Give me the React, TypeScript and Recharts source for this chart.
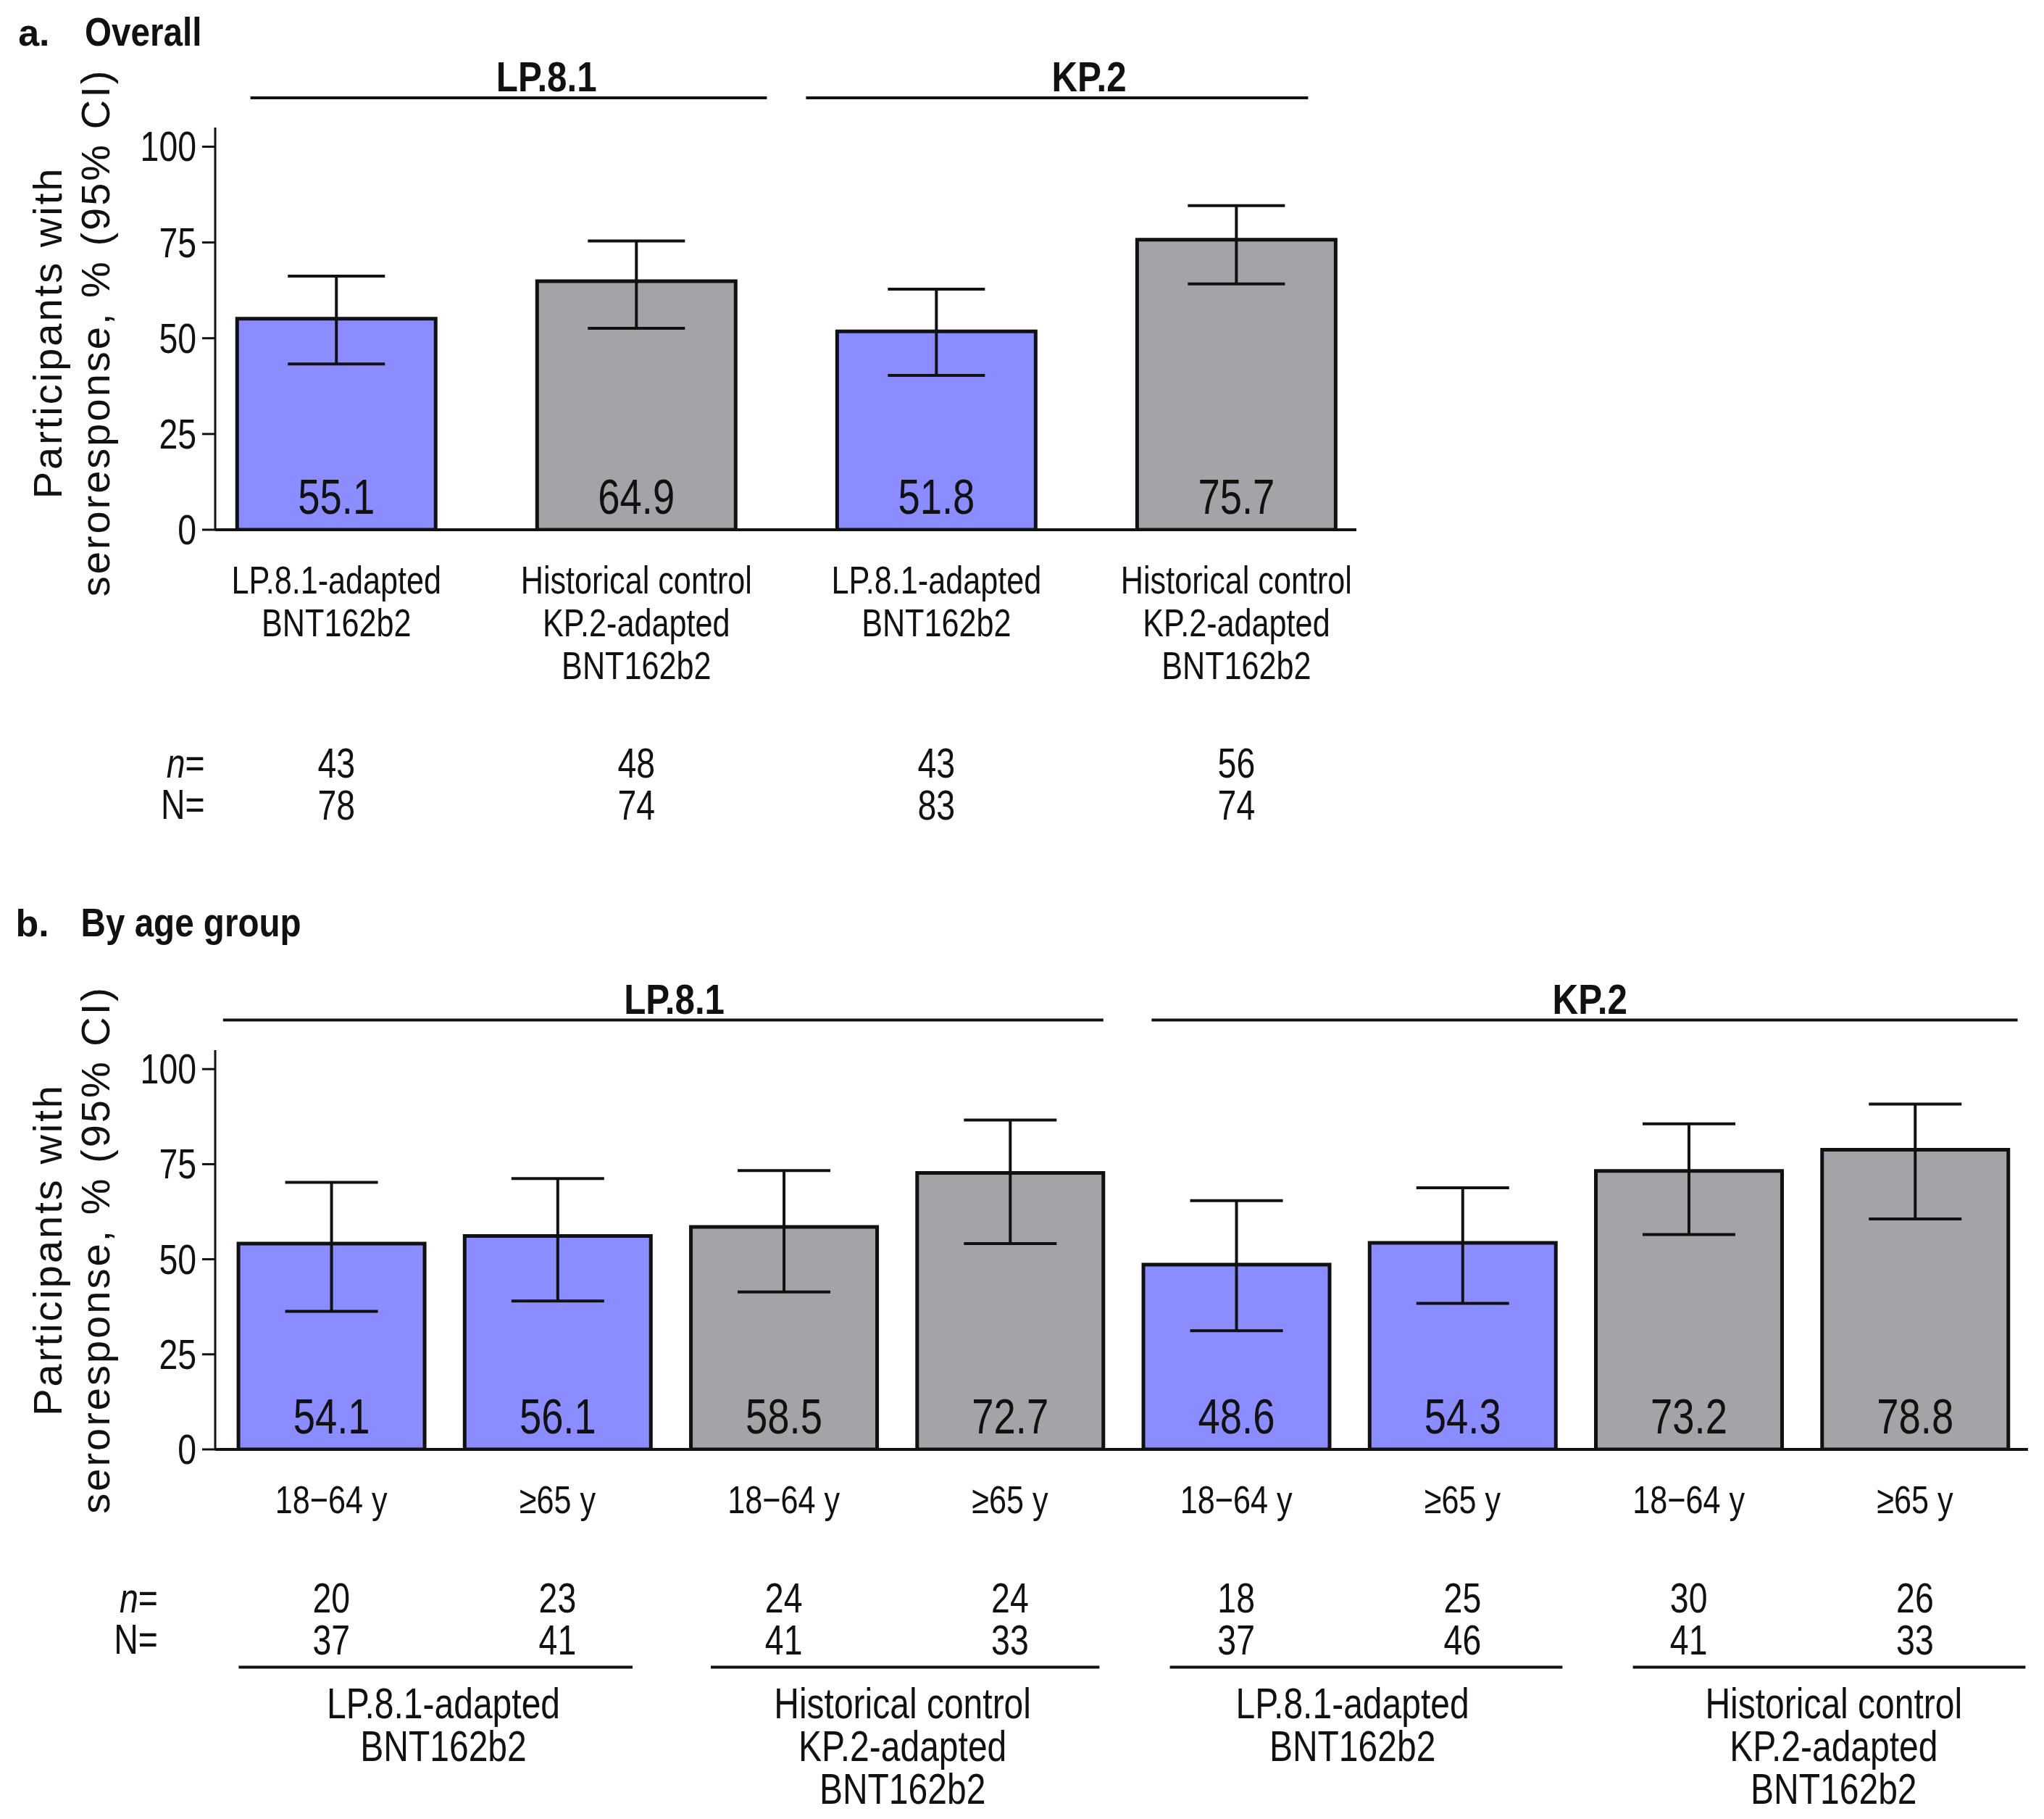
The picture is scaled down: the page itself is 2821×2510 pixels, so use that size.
import React from "react";
import { ComposedChart, Bar, XAxis, YAxis, ErrorBar, Cell, LabelList } from "recharts";

const S = 1.8;
const BLUE = "#8b8cff";
const GRAY = "#a4a3a8";
const NARROW = "'Liberation Sans Narrow', 'Arial Narrow', 'Liberation Sans', sans-serif";
const SANS = "'Liberation Sans', Arial, sans-serif";
const SQ = 0.8;

// Panel a
const aCategories = [
  ["LP.8.1-adapted", "BNT162b2"],
  ["Historical control", "KP.2-adapted", "BNT162b2"],
  ["LP.8.1-adapted", "BNT162b2"],
  ["Historical control", "KP.2-adapted", "BNT162b2"],
];
const aValues = [55.1, 64.9, 51.8, 75.7];
const aLow = [43.3, 52.6, 40.3, 64.2];
const aHigh = [66.2, 75.4, 62.8, 84.6];
const aN_small = [43, 48, 43, 56];
const aN_big = [78, 74, 83, 74];
const aColors = [BLUE, GRAY, BLUE, GRAY];

// Panel b
const bAges = ["18\u221264 y", "\u226565 y", "18\u221264 y", "\u226565 y", "18\u221264 y", "\u226565 y", "18\u221264 y", "\u226565 y"];
const bValues = [54.1, 56.1, 58.5, 72.7, 48.6, 54.3, 73.2, 78.8];
const bLow = [36.3, 39.0, 41.4, 54.1, 31.2, 38.4, 56.5, 60.6];
const bHigh = [70.2, 71.2, 73.3, 86.6, 65.4, 68.8, 85.6, 90.8];
const bN_small = [20, 23, 24, 24, 18, 25, 30, 26];
const bN_big = [37, 41, 41, 33, 37, 46, 41, 33];
const bColors = [BLUE, BLUE, GRAY, GRAY, BLUE, BLUE, GRAY, GRAY];
const bGroups = [
  ["LP.8.1-adapted", "BNT162b2"],
  ["Historical control", "KP.2-adapted", "BNT162b2"],
  ["LP.8.1-adapted", "BNT162b2"],
  ["Historical control", "KP.2-adapted", "BNT162b2"],
];

const yTicks = [0, 25, 50, 75, 100];

const aData = aValues.map((v, i) => ({ i, v, err: [v - aLow[i], aHigh[i] - v] }));
const bData = bValues.map((v, i) => ({ i, v, err: [v - bLow[i], bHigh[i] - v] }));

const NText = ({ x, y, size, anchor = "middle", children, fill = "#111" }: any) => (
  <text transform={`translate(${x},${y}) scale(${SQ},1)`} textAnchor={anchor} fontFamily={NARROW} fontSize={size} fill={fill}>
    {children}
  </text>
);

const ValueLabel = (props: any) => {
  const { x, width, value, y, height } = props;
  return <NText x={x + width / 2} y={y + height - 22} size={68}>{Number(value).toFixed(1)}</NText>;
};

const ATick = (props: any) => {
  const { x, y, payload } = props;
  const i = payload.value;
  const lines = aCategories[i];
  if (!lines) return null;
  return (
    <g>
      {lines.map((l, k) => (
        <NText key={k} x={x} y={y + 88 + k * 59} size={54}>{l}</NText>
      ))}
      <NText x={x} y={y + 342} size={58}>{aN_small[i]}</NText>
      <NText x={x} y={y + 400} size={58}>{aN_big[i]}</NText>
    </g>
  );
};

const BTick = (props: any) => {
  const { x, y, payload } = props;
  const i = payload.value;
  if (bAges[i] === undefined) return null;
  return (
    <g>
      <NText x={x} y={y + 88} size={54}>{bAges[i]}</NText>
      <NText x={x} y={y + 225} size={58}>{bN_small[i]}</NText>
      <NText x={x} y={y + 283} size={58}>{bN_big[i]}</NText>
    </g>
  );
};

const YTick = (props: any) => {
  const { x, y, payload } = props;
  return <NText x={x} y={y + 20} size={58} anchor="end">{payload.value}</NText>;
};

export default function App() {
  return (
    <div style={{ position: "absolute", left: 0, top: 0, width: 2821, height: 2510, background: "#fff" }}>
      <div style={{ position: "absolute", left: 0, top: 0 }}>
        <ComposedChart width={2821} height={1250} data={aData} margin={{ top: 176, bottom: 119, left: 177, right: 949 }}>
          <YAxis type="number" domain={[0, 105]} ticks={yTicks} width={120} tickSize={18} tickMargin={8}
            axisLine={{ stroke: "#111", strokeWidth: 3 }} tickLine={{ stroke: "#111", strokeWidth: 3 }} tick={<YTick />} allowDataOverflow />
          <XAxis type="number" dataKey="i" domain={[-0.404, 3.4]} ticks={[0, 1, 2, 3]} height={400} tickSize={0} tickMargin={0}
            axisLine={{ stroke: "#111", strokeWidth: 4 }} tick={<ATick />} allowDataOverflow interval={0} />
          <Bar dataKey="v" barSize={274} stroke="#111" strokeWidth={5} isAnimationActive={false}>
            {aData.map((d, k) => <Cell key={k} fill={aColors[k]} />)}
            <ErrorBar dataKey="err" width={67} stroke="#111" strokeWidth={4} direction="y" />
            <LabelList dataKey="v" content={<ValueLabel />} />
          </Bar>
        </ComposedChart>
      </div>
      <div style={{ position: "absolute", left: 0, top: 1250 }}>
        <ComposedChart width={2821} height={1260} data={bData} margin={{ top: 199, bottom: 110, left: 177, right: 22 }}>
          <YAxis type="number" domain={[0, 105]} ticks={yTicks} width={120} tickSize={18} tickMargin={8}
            axisLine={{ stroke: "#111", strokeWidth: 3 }} tickLine={{ stroke: "#111", strokeWidth: 3 }} tick={<YTick />} allowDataOverflow />
          <XAxis type="number" dataKey="i" domain={[-0.513, 7.5]} ticks={[0, 1, 2, 3, 4, 5, 6, 7]} height={400} tickSize={0} tickMargin={0}
            axisLine={{ stroke: "#111", strokeWidth: 4 }} tick={<BTick />} allowDataOverflow interval={0} />
          <Bar dataKey="v" barSize={257} stroke="#111" strokeWidth={5} isAnimationActive={false}>
            {bData.map((d, k) => <Cell key={k} fill={bColors[k]} />)}
            <ErrorBar dataKey="err" width={64} stroke="#111" strokeWidth={4} direction="y" />
            <LabelList dataKey="v" content={<ValueLabel />} />
          </Bar>
        </ComposedChart>
      </div>
      <svg width={2821} height={2510} style={{ position: "absolute", left: 0, top: 0, pointerEvents: "none" }}>
        <g fill="#111" fontFamily={SANS} fontWeight="bold">
          <text x={14 * S} y={35 * S} fontSize={52}>a.</text>
          <text transform={`translate(${65 * S},${35 * S}) scale(0.85,1)`} fontSize={56}>Overall</text>
          <text x={12 * S} y={718 * S} fontSize={52}>b.</text>
          <text transform={`translate(${62 * S},${718 * S}) scale(0.85,1)`} fontSize={56}>By age group</text>
          <text transform={`translate(${419 * S},${70 * S}) scale(0.85,1)`} textAnchor="middle" fontSize={58}>LP.8.1</text>
          <text transform={`translate(${835 * S},${70 * S}) scale(0.85,1)`} textAnchor="middle" fontSize={58}>KP.2</text>
          <text transform={`translate(${517 * S},${777 * S}) scale(0.85,1)`} textAnchor="middle" fontSize={58}>LP.8.1</text>
          <text transform={`translate(${1219 * S},${777 * S}) scale(0.85,1)`} textAnchor="middle" fontSize={58}>KP.2</text>
        </g>
        <g stroke="#111" strokeWidth={4}>
          <line x1={192 * S} x2={588 * S} y1={75 * S} y2={75 * S} />
          <line x1={618 * S} x2={1003 * S} y1={75 * S} y2={75 * S} />
          <line x1={171 * S} x2={846 * S} y1={782 * S} y2={782 * S} />
          <line x1={883 * S} x2={1547 * S} y1={782 * S} y2={782 * S} />
          <line x1={183 * S} x2={485 * S} y1={1278 * S} y2={1278 * S} />
          <line x1={545 * S} x2={843 * S} y1={1278 * S} y2={1278 * S} />
          <line x1={897 * S} x2={1198 * S} y1={1278 * S} y2={1278 * S} />
          <line x1={1252 * S} x2={1553 * S} y1={1278 * S} y2={1278 * S} />
        </g>
        <g fill="#111" fontFamily={SANS} fontSize={56} letterSpacing={3}>
          <text transform={`translate(${47 * S},${255 * S}) rotate(-90)`} textAnchor="middle">Participants with</text>
          <text transform={`translate(${84 * S},${255 * S}) rotate(-90)`} textAnchor="middle">seroresponse, % (95% CI)</text>
          <text transform={`translate(${47 * S},${958 * S}) rotate(-90)`} textAnchor="middle">Participants with</text>
          <text transform={`translate(${84 * S},${958 * S}) rotate(-90)`} textAnchor="middle">seroresponse, % (95% CI)</text>
        </g>
        <NText x={157 * S} y={596 * S} size={58} anchor="end"><tspan fontStyle="italic">n</tspan>=</NText>
        <NText x={157 * S} y={628 * S} size={58} anchor="end">N=</NText>
        <NText x={121 * S} y={1236 * S} size={58} anchor="end"><tspan fontStyle="italic">n</tspan>=</NText>
        <NText x={121 * S} y={1268 * S} size={58} anchor="end">N=</NText>
        {bGroups.map((g, gi) =>
          g.map((l, k) => (
            <NText key={`${gi}-${k}`} x={[340, 692, 1037, 1406][gi] * S} y={(1317 + k * 33) * S} size={60}>{l}</NText>
          ))
        )}
      </svg>
    </div>
  );
}
